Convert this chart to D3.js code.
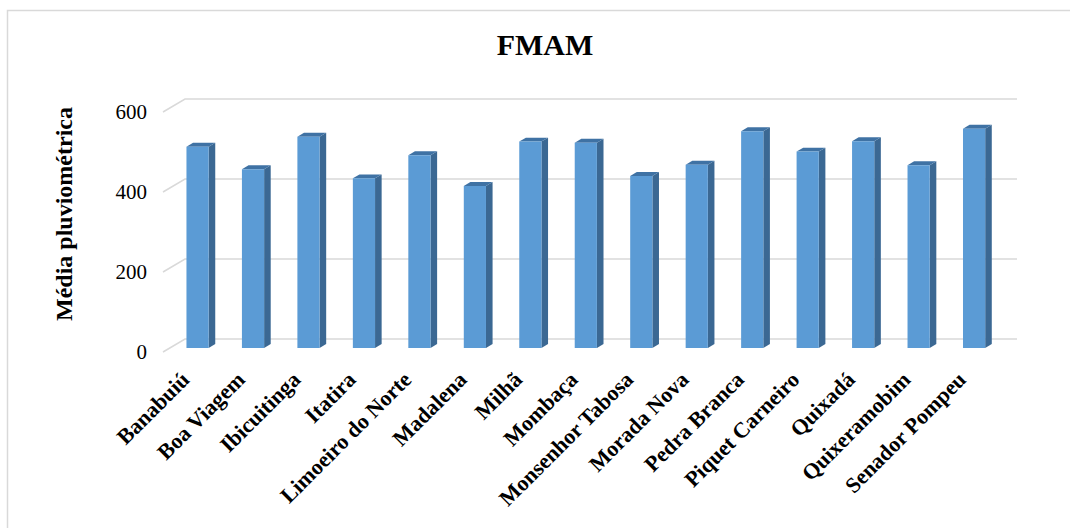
<!DOCTYPE html>
<html>
<head>
<meta charset="utf-8">
<script src="https://cdn.jsdelivr.net/npm/d3@7"></script>
<style>
  html, body { margin: 0; padding: 0; background: #fff; overflow: hidden; }
  svg { display: block; }
  text { font-family: "Liberation Serif", "Times New Roman", serif; fill: #000; }
</style>
</head>
<body>
<svg id="chart" width="1070" height="528"></svg>
<script>
// Municipalities and their mean rainfall for February–May (FMAM)
const municipios = [
  "Banabuiú", "Boa Viagem", "Ibicuitinga", "Itatira", "Limoeiro do Norte",
  "Madalena", "Milhã", "Mombaça", "Monsenhor Tabosa", "Morada Nova",
  "Pedra Branca", "Piquet Carneiro", "Quixadá", "Quixeramobim", "Senador Pompeu"
];
const mediaFMAM = [
  503, 447, 528, 424, 482,
  405, 516, 513, 430, 458,
  542, 491, 517, 457, 548
];
const yTicks = [0, 200, 400, 600];
const chartTitle = "FMAM";
const yTitle = "Média pluviométrica";

const svg = d3.select("#chart");

// Outer frame
svg.append("rect")
  .attr("x", 7.5).attr("y", 10.5)
  .attr("width", 1100).attr("height", 600)
  .attr("fill", "none")
  .attr("stroke", "#d9d9d9")
  .attr("stroke-width", 1.5);

// Oblique 3D projection: full depth shifts points right and up
const depth = { dx: 22, dy: -13 };
const proj = (x, y, f) => [x + depth.dx * f, y + depth.dy * f];

const x = d3.scaleBand()
  .domain(municipios)
  .range([163, 995])
  .paddingInner(0.6)
  .paddingOuter(0.3);

const y = d3.scaleLinear()
  .domain([0, 600])
  .range([352, 112]);

// Gridlines: slanted across the side wall, then along the back wall
const grid = svg.append("g");
yTicks.forEach(t => {
  const a = proj(163, y(t), 0);
  const b = proj(163, y(t), 1);
  const c = proj(995, y(t), 1);
  grid.append("path")
    .attr("d", `M${a[0]},${a[1]}L${b[0]},${b[1]}L${c[0]},${c[1]}`)
    .attr("fill", "none")
    .attr("stroke", "#d9d9d9")
    .attr("stroke-width", 1.5);
});

// Y tick labels
svg.append("g").selectAll("text")
  .data(yTicks)
  .join("text")
  .attr("x", 147)
  .attr("y", d => y(d))
  .attr("dy", "0.35em")
  .attr("text-anchor", "end")
  .attr("font-size", 21)
  .text(d => d);

// Bars as prisms
const f0 = 0.31, f1 = 0.61;
const bw = x.bandwidth();
const bars = svg.append("g").selectAll("g")
  .data(municipios.map((m, i) => ({ m, v: mediaFMAM[i] })))
  .join("g");

const pts = arr => arr.map(p => p.join(",")).join(" ");

// Side face
bars.append("polygon")
  .attr("points", d => {
    const x1 = x(d.m) + bw;
    return pts([proj(x1, y(0), f0), proj(x1, y(0), f1), proj(x1, y(d.v), f1), proj(x1, y(d.v), f0)]);
  })
  .attr("fill", "#3b6893");

// Top face
bars.append("polygon")
  .attr("points", d => {
    const x0 = x(d.m), x1 = x0 + bw;
    return pts([proj(x0, y(d.v), f0), proj(x1, y(d.v), f0), proj(x1, y(d.v), f1), proj(x0, y(d.v), f1)]);
  })
  .attr("fill", "#3f72a4");

// Front face
bars.append("polygon")
  .attr("points", d => {
    const x0 = x(d.m), x1 = x0 + bw;
    return pts([proj(x0, y(0), f0), proj(x1, y(0), f0), proj(x1, y(d.v), f0), proj(x0, y(d.v), f0)]);
  })
  .attr("fill", "#5b9bd5");

// Category labels, rotated
svg.append("g").selectAll("text")
  .data(municipios)
  .join("text")
  .attr("transform", d => `translate(${x(d) + bw / 2},381) rotate(-45)`)
  .attr("text-anchor", "end")
  .attr("font-size", 22)
  .attr("font-weight", "bold")
  .text(d => d);

// Title
svg.append("text")
  .attr("x", 545).attr("y", 55)
  .attr("text-anchor", "middle")
  .attr("font-size", 30)
  .attr("font-weight", "bold")
  .text(chartTitle);

// Y axis title
svg.append("text")
  .attr("transform", "translate(72,214) rotate(-90)")
  .attr("text-anchor", "middle")
  .attr("font-size", 24)
  .attr("font-weight", "bold")
  .text(yTitle);
</script>
</body>
</html>
